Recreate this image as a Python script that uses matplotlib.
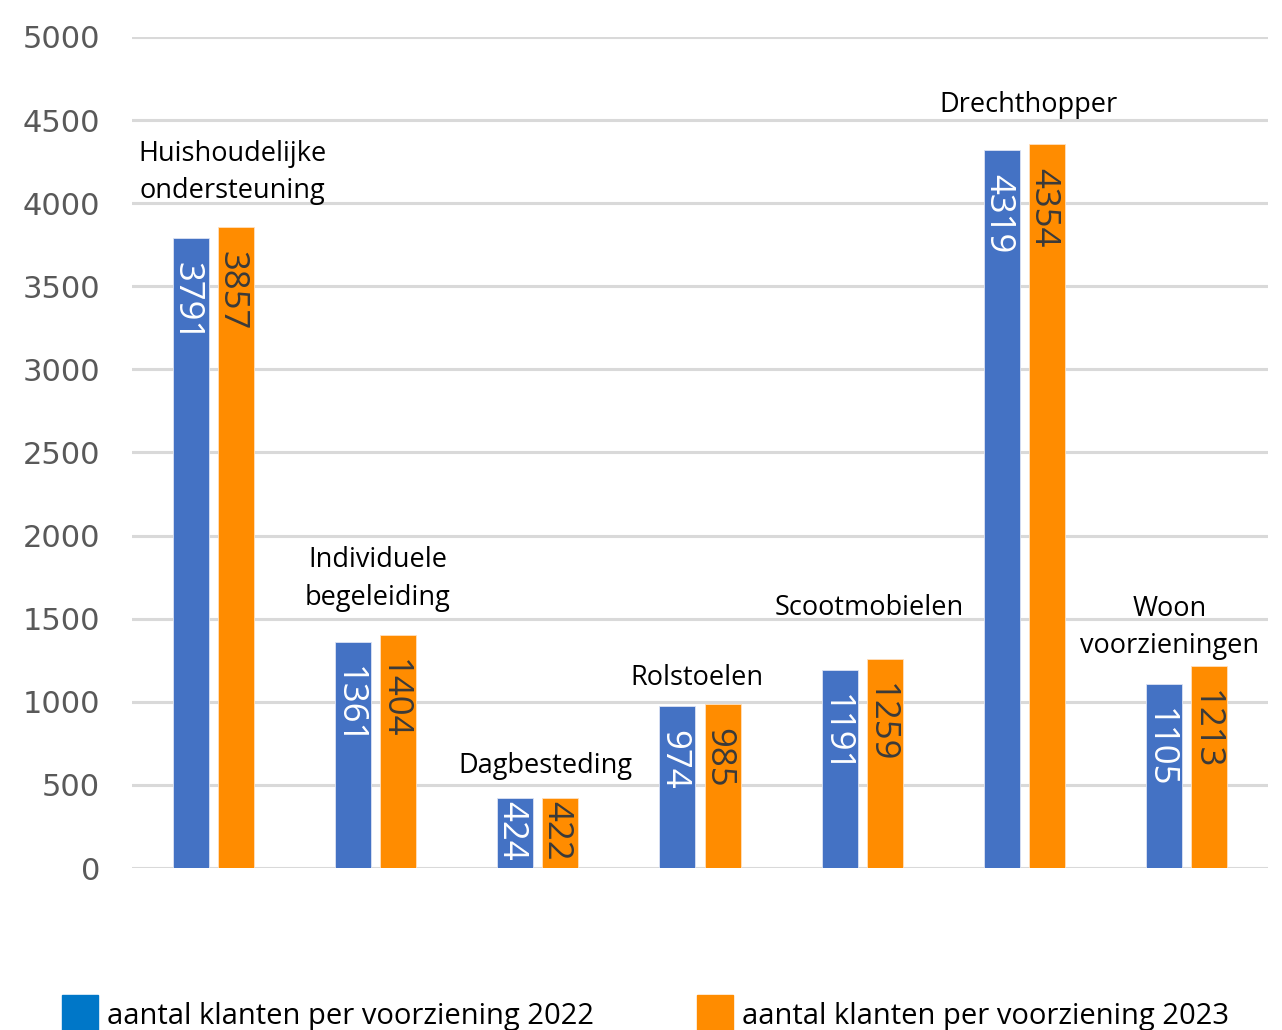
import matplotlib.pyplot as plt
import numpy as np
from matplotlib.patches import Rectangle

plt.rcParams['font.family'] = ['Open Sans', 'DejaVu Sans']

# Данные
categories = ['Huishoudelijke\nondersteuning', 'Individuele\nbegeleiding', 'Dagbesteding',
              'Rolstoelen', 'Scootmobielen', 'Drechthopper', 'Woon\nvoorzieningen']
values_2022 = [3791, 1361, 424, 974, 1191, 4319, 1105]
values_2023 = [3857, 1404, 422, 985, 1259, 4354, 1213]
series_names = ['aantal klanten per voorziening 2022', 'aantal klanten per voorziening 2023']

# смещения подписей категорий (пиксели) относительно верха группы
label_dx = [19, 2, 8, -3, 7, 4, -17]
label_dy = [22, 23, 18, 12, 37, 25, 6]

col_blue = '#4472C4'
col_orange = '#FF8C00'

fig = plt.figure(figsize=(12.82, 10.30), dpi=100)
ax = fig.add_axes([132/1282, 1 - 868/1030, 1136/1282, 831/1030])

x = np.arange(len(categories))
w = 0.222
off = 0.139
ax.bar(x - off, values_2022, width=w, color=col_blue, edgecolor='#dce3f3', linewidth=0.6, zorder=3)
ax.bar(x + off, values_2023, width=w, color=col_orange, edgecolor='#ffe0bf', linewidth=0.6, zorder=3)

ax.set_xlim(-0.5, len(categories) - 0.5)
ax.set_ylim(0, 5000)
ax.set_yticks(np.arange(0, 5001, 500))
ax.set_xticks([])
ax.tick_params(axis='y', length=0, pad=23, labelsize=22, labelcolor='#595959')
for lab in ax.get_yticklabels():
    lab.set_family('DejaVu Sans')
for s in ax.spines.values():
    s.set_visible(False)
ax.grid(axis='y', color='#D9D9D9', linewidth=2.2, zorder=0)
ax.set_axisbelow(True)


def value_label(xpos, val, color):
    # короткие столбцы: подпись прижата к низу
    if val < 600:
        ax.annotate(str(val), (xpos, 0), xytext=(-4, 7), textcoords='offset pixels',
                    rotation=270, ha='center', va='bottom', color=color,
                    fontsize=25, zorder=4)
    else:
        ax.annotate(str(val), (xpos, val), xytext=(-4, -24), textcoords='offset pixels',
                    rotation=270, ha='center', va='top', color=color,
                    fontsize=25, zorder=4)


for i in range(len(categories)):
    value_label(x[i] - off, values_2022[i], 'white')
    value_label(x[i] + off, values_2023[i], '#3a3a3a')

# подписи категорий
for i, name in enumerate(categories):
    top = max(values_2022[i], values_2023[i])
    ax.annotate(name, (x[i], top), xytext=(label_dx[i], label_dy[i]),
                textcoords='offset pixels', ha='center', va='bottom',
                fontsize=19.5, color='black', linespacing=1.45)

# легенда внизу
leg_x = [62, 697]
leg_cols = ['#0077C8', col_orange]
for lx, lc, name in zip(leg_x, leg_cols, series_names):
    fig.add_artist(Rectangle((lx/1282, 1 - 1035/1030), 36/1282, 40/1030,
                             transform=fig.transFigure, color=lc))
    fig.text((lx + 45)/1282, 1 - 1024/1030, name, fontsize=21, color='black',
             ha='left', va='baseline')

fig.savefig('out.png', dpi=100)
